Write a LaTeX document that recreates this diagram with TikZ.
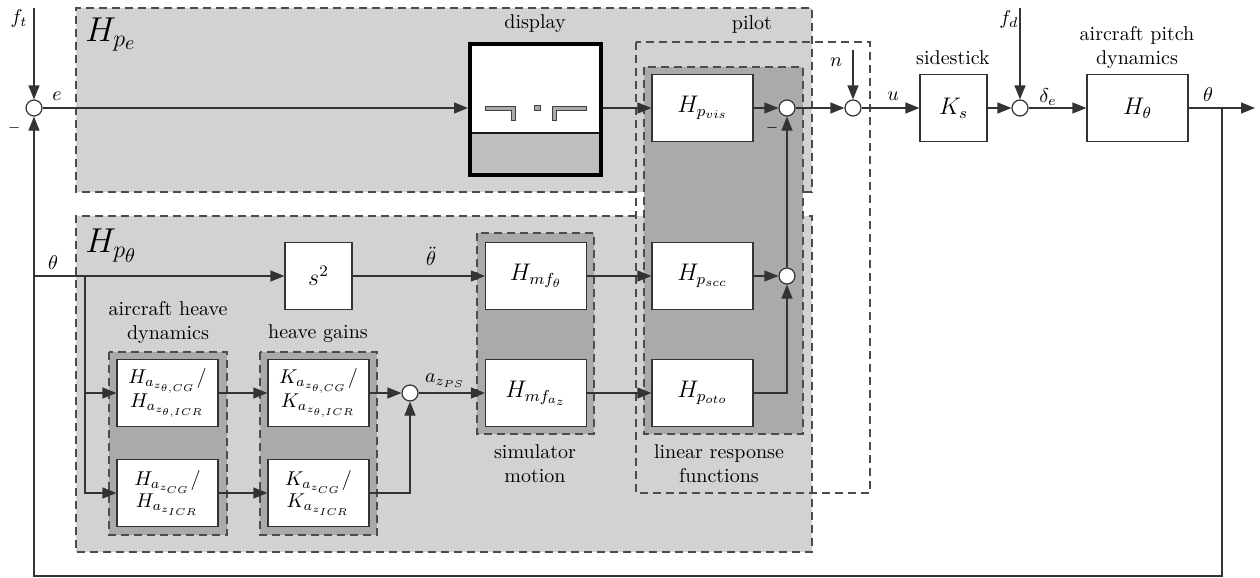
\documentclass[tikz,border=0pt]{standalone}
\usetikzlibrary{arrows.meta}
\begin{document}
\begin{tikzpicture}[x=0.5pt,y=-0.5pt,
  con/.style={draw=black!80,line width=0.6pt},
  arr/.style={con,-{Triangle[length=7pt,width=5.5pt]}},
  dsh/.style={draw=black!70,line width=0.6pt,dash pattern=on 4pt off 2.5pt},
  blk/.style={draw=black!80,fill=white,line width=0.6pt,minimum width=50.5pt,minimum height=33.5pt,inner sep=0pt,font=\large},
  sblk/.style={blk,minimum width=33.5pt},
  hblk/.style={blk,font=\normalsize,align=center},
  sumc/.style={circle,draw=black!80,fill=white,line width=0.6pt,inner sep=0pt,minimum size=8pt},
  lbl/.style={inner sep=0pt},
  minus/.style={inner sep=0pt,font=\scriptsize}
]
\useasboundingbox (0,0) rectangle (1260,578);
\definecolor{lightg}{gray}{0.825}
\definecolor{darkg}{gray}{0.665}
\definecolor{dispg}{gray}{0.745}

% grey regions
\fill[lightg] (76,8) rectangle (812,192);
\fill[lightg] (76,216) rectangle (812,552);
\draw[dsh] (636,192) -- (76,192) -- (76,8) -- (812,8) -- (812,192) -- (803,192);
\draw[dsh] (636,216) -- (76,216) -- (76,552) -- (812,552) -- (812,216) -- (803,216);
\draw[dsh] (636,42) rectangle (870,493);
\draw[dsh,fill=darkg] (644,67) rectangle (803,434);
\draw[dsh,fill=darkg] (477,233) rectangle (594,434);
\draw[dsh,fill=darkg] (109,352) rectangle (227,535);
\draw[dsh,fill=darkg] (260,352) rectangle (377,535);

% region labels
\node[lbl,font=\LARGE,anchor=base west] (Lpe) at (85,41) {$H_{p_e}$};
\node[lbl,font=\LARGE,anchor=base west] (Lpt) at (85,252) {$H_{p_\theta}$};
\node[lbl] (Ldisp) at (535,24) {display};
\node[lbl] (Lpil) at (752,24) {pilot};
\node[lbl] (Lside) at (953,58) {sidestick};
\node[lbl,align=center] (Lacp) at (1137,47) {aircraft pitch\\dynamics};
\node[lbl,align=center] (Lheave) at (168,322) {aircraft heave\\dynamics};
\node[lbl] (Lgain) at (318,334) {heave gains};
\node[lbl,align=center] (Lsim) at (535,464) {simulator\\motion};
\node[lbl,align=center] (Llrf) at (719,464) {linear response\\functions};

% display
\node[draw=black,fill=white,line width=2pt,minimum width=65.5pt,minimum height=65.5pt,inner sep=0pt] (disp) at (535.5,109.5) {};
\fill[dispg] (470,133) rectangle (601,175);
\draw[black!90,line width=0.6pt] (470,133) -- (601,133);
\node[draw=black,line width=2pt,minimum width=65.5pt,minimum height=65.5pt,inner sep=0pt] (dispb) at (535.5,109.5) {};
\filldraw[fill=darkg,draw=black!75,line width=0.5pt] (485,106) -- (515,106) -- (515,120) -- (511,120) -- (511,110) -- (485,110) -- cycle;
\filldraw[fill=darkg,draw=black!75,line width=0.5pt] (534,105) rectangle (540,110);
\filldraw[fill=darkg,draw=black!75,line width=0.5pt] (586,106) -- (552,106) -- (552,120) -- (556,120) -- (556,110) -- (586,110) -- cycle;

% blocks
\node[blk] (Hpvis) at (702.5,108) {$H_{p_{vis}}$};
\node[blk] (Hpscc) at (702.5,276) {$H_{p_{scc}}$};
\node[blk] (Hpoto) at (702.5,393) {$H_{p_{oto}}$};
\node[blk] (Hmft) at (536,276) {$H_{mf_{\theta}}$};
\node[blk] (Hmfa) at (536,393) {$H_{mf_{a_z}}$};
\node[sblk] (s2) at (318.5,276) {$s^2$};
\node[sblk] (Ks) at (953.5,108) {$K_s$};
\node[blk] (Ht) at (1137.5,108) {$H_\theta$};
\node[hblk] (Hazt) at (167.5,393) {$H_{a_{z_{\theta,CG}}}/$\\[-1pt]$H_{a_{z_{\theta,ICR}}}$};
\node[hblk] (Kazt) at (318.5,393) {$K_{a_{z_{\theta,CG}}}/$\\[-1pt]$K_{a_{z_{\theta,ICR}}}$};
\node[hblk] (Hazc) at (167.5,493) {$H_{a_{z_{CG}}}/$\\[-1pt]$H_{a_{z_{ICR}}}$};
\node[hblk] (Kazc) at (318.5,493) {$K_{a_{z_{CG}}}/$\\[-1pt]$K_{a_{z_{ICR}}}$};

% summing points
\node[sumc] (S1) at (34,108) {};
\node[sumc] (S2) at (787,108) {};
\node[sumc] (S3) at (853,108) {};
\node[sumc] (S4) at (1020,108) {};
\node[sumc] (S5) at (787,276) {};
\node[sumc] (S6) at (410,393) {};

% free ends
\coordinate (ft) at (34,8);
\coordinate (fd) at (1020,8);
\coordinate (nn) at (853,50);
\coordinate (out) at (1255,108);
\coordinate (br) at (1222,108);
\coordinate (fbr) at (1222,576);
\coordinate (fbl) at (34,576);
\coordinate (tb) at (34,276);
\coordinate (hb1) at (85,276);
\coordinate (hb2) at (85,393);
\coordinate (hb3) at (85,493);

% connectors
\draw[arr] (ft) -- (S1.north);
\draw[arr] (S1.east) -- (S1 -| disp.west);
\draw[arr] (disp.east |- S1) -- (Hpvis.west);
\draw[arr] (Hpvis.east) -- (S2.west);
\draw[arr] (S2.east) -- (S3.west);
\draw[arr] (nn) -- (S3.north);
\draw[arr] (S3.east) -- (Ks.west);
\draw[arr] (Ks.east) -- (S4.west);
\draw[arr] (fd) -- (S4.north);
\draw[arr] (S4.east) -- (Ht.west);
\draw[arr] (Ht.east) -- (out);
\draw[arr] (br) -- (fbr) -- (fbl) -- (S1.south);
\draw[arr] (tb) -- (s2.west);
\draw[arr] (s2.east) -- (Hmft.west);
\draw[arr] (Hmft.east) -- (Hpscc.west);
\draw[arr] (Hpscc.east) -- (S5.west);
\draw[arr] (S5.north) -- (S2.south);
\draw[arr] (Hpoto.east) -| (S5.south);
\draw[arr] (hb1) -- (hb2) -- (Hazt.west);
\draw[arr] (hb2) -- (hb3) -- (Hazc.west);
\draw[arr] (Hazt.east) -- (Kazt.west);
\draw[arr] (Hazc.east) -- (Kazc.west);
\draw[arr] (Kazt.east) -- (S6.west);
\draw[arr] (Kazc.east) -| (S6.south);
\draw[arr] (S6.east) -- (Hmfa.west);
\draw[arr] (Hmfa.east) -- (Hpoto.west);

% signal labels
\node[lbl] (lft) at (19,19) {$f_t$};
\node[lbl] (lfd) at (1009,20) {$f_d$};
\node[lbl] (le) at (57,96) {$e$};
\node[minus] (m1) at (14,128) {$-$};
\node[minus] (m2) at (772,128) {$-$};
\node[lbl] (ln) at (836,62) {$n$};
\node[lbl] (lu) at (893,96) {$u$};
\node[lbl] (lde) at (1048,97) {$\delta_e$};
\node[lbl] (lth) at (1208,95) {$\theta$};
\node[lbl] (lth2) at (53,263) {$\theta$};
\node[lbl] (ltdd) at (431,256) {$\ddot\theta$};
\node[lbl] (laz) at (445,381) {$a_{z_{PS}}$};
\end{tikzpicture}
\end{document}
